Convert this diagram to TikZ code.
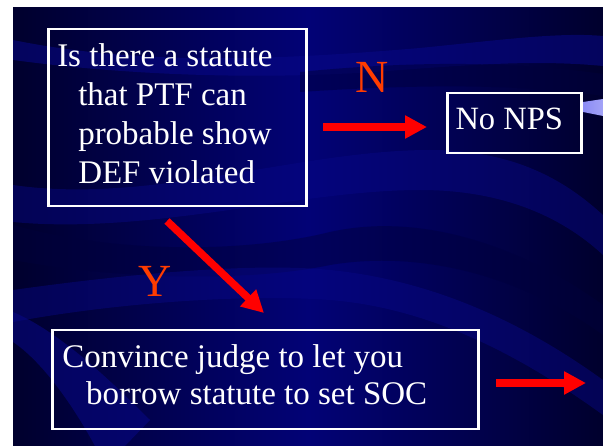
\documentclass[tikz,border=0pt]{standalone}
\usepackage{fontspec}
\setmainfont{Liberation Serif}
\usetikzlibrary{arrows.meta}
\definecolor{bgdark}{RGB}{0,0,45}
\definecolor{bgmid}{RGB}{2,2,118}
\definecolor{bandl}{RGB}{8,8,135}
\definecolor{bandd}{RGB}{0,0,60}
\definecolor{lbl}{RGB}{255,60,0}
\definecolor{ribbon}{RGB}{140,140,245}
\begin{document}
\begin{tikzpicture}[x=1pt,y=-1pt,
  box/.style={draw=white, line width=2.5pt, text=white, inner ysep=0pt, anchor=north west},
  arr/.style={draw=red, line width=7.5pt, -{Triangle[length=22pt,width=22pt]}},
  lab/.style={text=lbl, font=\fontsize{46}{46}\selectfont, inner sep=0pt, anchor=base west}]
\useasboundingbox (0,0) rectangle (603,446);
\fill[white] (0,0) rectangle (603,446);
\shade[left color=bgdark, right color=bgdark, middle color=bgmid] (13,8) rectangle (603,446);
\begin{scope}
\clip (13,8) rectangle (603,446);
% upper bands
\fill[bandl, opacity=0.55] (13,40) .. controls (150,68) and (300,58) .. (420,48)
   .. controls (500,40) and (560,32) .. (603,36) -- (603,66)
   .. controls (540,60) and (480,64) .. (400,70) .. controls (280,80) and (140,77) .. (13,60) -- cycle;
\fill[bandd, opacity=0.5] (300,72) .. controls (420,60) and (520,62) .. (603,74) -- (603,96)
   .. controls (520,84) and (420,84) .. (300,92) -- cycle;
% middle bands
\fill[bandl, opacity=0.45] (13,185) .. controls (150,205) and (300,150) .. (430,150)
   .. controls (520,150) and (570,185) .. (603,215) -- (603,255)
   .. controls (560,215) and (500,190) .. (420,190) .. controls (300,190) and (150,235) .. (13,222) -- cycle;
\fill[bandd, opacity=0.45] (13,225) .. controls (120,255) and (250,252) .. (330,232)
   .. controls (420,212) and (520,245) .. (603,305) -- (603,335)
   .. controls (520,275) and (420,250) .. (330,265) .. controls (250,282) and (120,280) .. (13,260) -- cycle;
\fill[bandl, opacity=0.45] (13,290) .. controls (120,275) and (250,262) .. (330,270)
   .. controls (430,280) and (520,320) .. (603,380) -- (603,415)
   .. controls (520,355) and (430,308) .. (330,300) .. controls (250,294) and (120,302) .. (13,322) -- cycle;
% lower-left diagonal band
\fill[bandl, opacity=0.55] (13,312) .. controls (60,332) and (110,380) .. (150,420) -- (125,446) -- (95,446)
   .. controls (70,400) and (40,360) .. (13,342) -- cycle;
\end{scope}
% ribbon tip at right
\shade[left color=ribbon, right color=ribbon!80!white] (583,102) -- (603,99) -- (603,116) -- (583,112) -- cycle;

% boxes
\node[box, text width=240pt, inner xsep=9pt, minimum height=177pt, align=left,
      font=\fontsize{33}{39}\selectfont] (q1) at (47,28)
  {\spaceskip=0.25em\relax Is there a statute\\
   \hspace*{21pt}that PTF can\\
   \hspace*{21pt}probable show\\
   \hspace*{21pt}DEF violated\rule[-8.5pt]{0pt}{8.5pt}};
\node[box, minimum width=134pt, minimum height=60pt, inner xsep=0pt, align=center,
      font=\fontsize{32.5}{36}\selectfont] (nonps) at (446,92)
  {\spaceskip=0.25em\relax No NPS\hspace*{10pt}\rule[-8.2pt]{0pt}{8.2pt}};
\node[box, text width=406pt, inner xsep=10pt, minimum height=99pt, align=left,
      font=\fontsize{33}{37}\selectfont] (conv) at (51,329)
  {\spaceskip=0.25em\relax Convince judge to let you\\
   \hspace*{24pt}borrow statute to set SOC\rule[-10.5pt]{0pt}{10.5pt}};

% labels
\node[lab] (n) at (355,93) {N};
\node[lab] (y) at (138,297) {Y};

% arrows
\coordinate (a1s) at (323,127);
\coordinate (a1e) at (427,127);
\coordinate (a2s) at (167,221);
\coordinate (a2e) at (264,313);
\coordinate (a3s) at (496,383);
\coordinate (a3e) at (586,383);
\draw[arr] (a1s) -- (a1e);
\draw[arr] (a2s) -- (a2e);
\draw[arr] (a3s) -- (a3e);
\end{tikzpicture}
\end{document}
